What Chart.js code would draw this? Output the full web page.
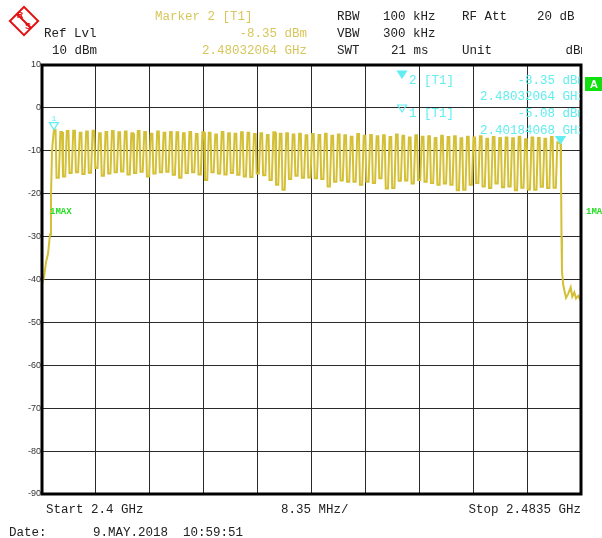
<!DOCTYPE html>
<html>
<head>
<meta charset="utf-8">
<script src="https://cdn.jsdelivr.net/npm/chart.js@4.4.1/dist/chart.umd.min.js"></script>
<style>
html, body { margin: 0; padding: 0; background: #fff; }
#wrap { width: 602px; height: 538px; }
</style>
</head>
<body>
<div id="wrap"><canvas id="spec" width="602" height="538"></canvas></div>
<script>
// sweep (GHz)
const startFreq = 2.4;
const stopFreq = 2.4835;
const freqDiv = 0.00835;
const levelTicks = [10, 0, -10, -20, -30, -40, -50, -60, -70, -80, -90];

// hopping channels, 1 MHz raster from 2.402 GHz
const chFirst = 2.402;
const chStep = 0.001;

// max-hold peak per channel (ch 0..77), dBm
const peakLevels = [
  -5.08, -5.6, -5.4, -5.3, -5.8, -5.5, -5.3, -5.9, -5.6, -5.4,
  -5.7, -5.5, -5.9, -5.4, -5.6, -6.0, -5.5, -5.8, -5.6, -5.7,
  -5.9, -5.6, -6.1, -5.7, -5.8, -6.2, -5.6, -5.9, -6.0, -5.7,
  -5.8, -6.1, -5.9, -6.3, -5.7, -6.0, -5.9, -6.2, -6.0, -6.4,
  -6.1, -6.3, -6.0, -6.5, -6.2, -6.4, -6.7, -6.1, -6.5, -6.3,
  -6.6, -6.4, -6.8, -6.2, -6.5, -6.9, -6.4, -6.7, -6.6, -7.0,
  -6.5, -6.8, -6.6, -7.1, -6.7, -6.9, -6.6, -7.2, -6.8, -7.0,
  -6.9, -7.1, -6.7, -7.3, -6.9, -7.0, -7.2, -6.8
];
// level between channels (after ch 0..77), dBm
const dipLevels = [
  -16.3, -16.0, -15.2, -15.0, -15.4, -15.1, -14.0, -15.8, -15.3, -15.0,
  -14.8, -15.5, -15.2, -14.9, -16.0, -15.3, -15.0, -14.9, -15.6, -16.3,
  -15.2, -15.0, -15.5, -16.8, -15.0, -15.3, -15.5, -15.2, -15.6, -16.0,
  -16.1, -15.3, -15.7, -16.8, -17.9, -19.1, -16.6, -15.8, -16.3, -16.2,
  -16.4, -16.6, -18.3, -17.2, -16.9, -17.2, -17.2, -17.9, -17.2, -17.5,
  -16.4, -18.8, -18.7, -17.0, -16.9, -17.6, -16.8, -17.2, -17.5, -17.9,
  -17.6, -17.9, -19.2, -19.1, -17.9, -17.5, -18.3, -18.7, -17.6, -18.5,
  -18.3, -19.2, -18.6, -19.0, -19.1, -18.4, -18.7, -18.6
];

// band edge at sweep start
const leftFreqs = [2.4, 2.40031, 2.40062, 2.40093, 2.40124, 2.40139, 2.40155];
const leftLevels = [-41, -39.5, -36, -34, -29.5, -21, -10];

// last channel, band edge and noise floor at sweep end
const rightFreqs = [2.47984, 2.48032, 2.4804, 2.48048, 2.48055, 2.48076, 2.48118, 2.48153,
  2.4819, 2.48215, 2.48246, 2.48273, 2.48308, 2.48335, 2.4835];
const rightLevels = [-8.0, -8.35, -14.5, -30, -38, -41.4, -44.3, -43.3,
  -41.8, -44, -43, -44.4, -43.8, -44.6, -44];

// markers
const markerFreqs = [2.40184068, 2.48032064];
const markerLevels = [-5.08, -8.35];

const trace = [];
leftFreqs.forEach((f, i) => trace.push({x: f, y: leftLevels[i]}));
peakLevels.forEach((p, k) => {
  const fc = chFirst + k * chStep;
  trace.push({x: fc - 0.00016, y: p});
  trace.push({x: fc + 0.0001, y: p});
  trace.push({x: fc + 0.00025, y: dipLevels[k]});
  trace.push({x: fc + 0.0006, y: dipLevels[k]});
});
rightFreqs.forEach((f, i) => trace.push({x: f, y: rightLevels[i]}));

const xTicks = [];
for (let i = 0; i <= 10; i++) xTicks.push(startFreq + i * freqDiv);

const MONO = '12.5px "Liberation Mono"';
const YEL = '#d8c65c';
const CYAN = '#62eef0';

function tri(ctx, x, y, filled) {
  ctx.beginPath();
  ctx.moveTo(x, y);
  ctx.lineTo(x - 4.5, y - 7);
  ctx.lineTo(x + 4.5, y - 7);
  ctx.closePath();
  if (filled) { ctx.fillStyle = CYAN; ctx.fill(); }
  ctx.strokeStyle = CYAN; ctx.lineWidth = 1.2; ctx.stroke();
}

const overlay = {
  id: 'overlay',
  afterDraw(chart) {
    const ctx = chart.ctx;
    const a = chart.chartArea;
    const xs = chart.scales.x, ys = chart.scales.y;
    ctx.save();

    // frame
    ctx.strokeStyle = '#000';
    ctx.lineWidth = 3;
    ctx.strokeRect(a.left, a.top, a.right - a.left, a.bottom - a.top);

    // R&S logo
    ctx.save();
    ctx.translate(24, 21);
    ctx.rotate(Math.PI / 4);
    ctx.strokeStyle = '#e41010';
    ctx.lineWidth = 2;
    ctx.strokeRect(-10, -10, 20, 20);
    ctx.beginPath(); ctx.moveTo(-10, 0); ctx.lineTo(10, 0); ctx.stroke();
    ctx.restore();
    ctx.fillStyle = '#e41010';
    ctx.font = 'bold 9px "Liberation Sans"';
    ctx.textAlign = 'center'; ctx.textBaseline = 'middle';
    ctx.fillText('R', 20, 16);
    ctx.fillText('S', 28, 27);

    // header
    ctx.font = MONO;
    ctx.textBaseline = 'middle';
    ctx.textAlign = 'left';
    ctx.fillStyle = YEL;
    ctx.fillText('Marker 2 [T1]', 155, 17);
    ctx.textAlign = 'right';
    ctx.fillText('-8.35 dBm', 307, 34);
    ctx.fillText('2.48032064 GHz', 307, 51);
    ctx.fillStyle = '#222';
    ctx.textAlign = 'left';
    ctx.fillText('Ref Lvl', 44, 34);
    ctx.fillText('10 dBm', 52, 51);
    ctx.fillText('RBW', 337, 17);
    ctx.fillText('100 kHz', 383, 17);
    ctx.fillText('RF Att', 462, 17);
    ctx.fillText('20 dB', 537, 17);
    ctx.fillText('VBW', 337, 34);
    ctx.fillText('300 kHz', 383, 34);
    ctx.fillText('SWT', 337, 51);
    ctx.fillText('21 ms', 391, 51);
    ctx.fillText('Unit', 462, 51);
    ctx.save();
    ctx.beginPath(); ctx.rect(0, 0, 582, 60); ctx.clip();
    ctx.textAlign = 'right';
    ctx.fillText('dBm', 588, 51);
    ctx.restore();

    // bottom lines
    ctx.textAlign = 'left';
    ctx.fillText('Start 2.4 GHz', 46, 510);
    ctx.fillText('8.35 MHz/', 281, 510);
    ctx.textAlign = 'right';
    ctx.fillText('Stop 2.4835 GHz', 581, 510);
    ctx.textAlign = 'left';
    ctx.fillText('Date:', 9, 533);
    ctx.fillText('9.MAY.2018  10:59:51', 93, 533);

    // marker readout inside the grid
    ctx.save();
    ctx.beginPath(); ctx.rect(a.left, a.top, a.right - a.left - 1, a.bottom - a.top); ctx.clip();
    tri(ctx, 402, 78, true);
    tri(ctx, 402, 112, false);
    ctx.fillStyle = CYAN;
    ctx.font = MONO;
    ctx.textAlign = 'left';
    ctx.fillText('2 [T1]', 409, 81);
    ctx.fillText('1 [T1]', 409, 114);
    ctx.textAlign = 'right';
    ctx.fillText('-8.35 dBm', 585, 81);
    ctx.fillText('2.48032064 GHz', 585, 97);
    ctx.fillText('-5.08 dBm', 585, 114);
    ctx.fillText('2.40184068 GHz', 585, 131);

    // markers on trace
    const m1x = xs.getPixelForValue(markerFreqs[0]), m1y = ys.getPixelForValue(markerLevels[0]);
    const m2x = xs.getPixelForValue(markerFreqs[1]), m2y = ys.getPixelForValue(markerLevels[1]);
    tri(ctx, m1x, m1y, false);
    tri(ctx, m2x, m2y, true);
    ctx.textAlign = 'center';
    ctx.font = '8px "Liberation Mono"';
    ctx.fillText('1', m1x, m1y - 11);

    // trace label
    ctx.fillStyle = '#22dd22';
    ctx.font = 'bold 9px "Liberation Mono"';
    ctx.textAlign = 'left';
    ctx.fillText('1MAX', 50, 212);
    ctx.restore();
    ctx.fillStyle = '#22dd22';
    ctx.font = 'bold 9px "Liberation Mono"';
    ctx.fillText('1MA', 586, 212);

    // trace A box
    ctx.fillStyle = '#10e010';
    ctx.fillRect(585, 77, 17, 14);
    ctx.fillStyle = '#fff';
    ctx.font = 'bold 11px "Liberation Sans"';
    ctx.textAlign = 'center';
    ctx.fillText('A', 594, 85);

    ctx.restore();
  }
};

new Chart(document.getElementById('spec'), {
  type: 'line',
  data: {
    datasets: [{
      data: trace,
      borderColor: '#d4c036',
      borderWidth: 2,
      pointRadius: 0,
      tension: 0
    }]
  },
  options: {
    responsive: false,
    animation: false,
    devicePixelRatio: 1,
    events: [],
    layout: { padding: { left: 0, top: 65, right: 21, bottom: 44 } },
    plugins: { legend: { display: false }, tooltip: { enabled: false } },
    scales: {
      x: {
        type: 'linear',
        min: startFreq,
        max: stopFreq,
        afterBuildTicks: s => { s.ticks = xTicks.map(v => ({value: v})); },
        afterFit: s => { s.height = 0; },
        ticks: { display: false },
        grid: { color: '#2a2a2a', lineWidth: 1, drawTicks: false },
        border: { display: false }
      },
      y: {
        min: -90,
        max: 10,
        afterBuildTicks: s => { s.ticks = levelTicks.map(v => ({value: v})); },
        afterFit: s => { s.width = 42; },
        ticks: {
          color: '#333',
          padding: 1,
          font: { family: 'Liberation Sans', size: 9 }
        },
        grid: { color: '#2a2a2a', lineWidth: 1, drawTicks: false },
        border: { display: false }
      }
    }
  },
  plugins: [overlay]
});
</script>
</body>
</html>
